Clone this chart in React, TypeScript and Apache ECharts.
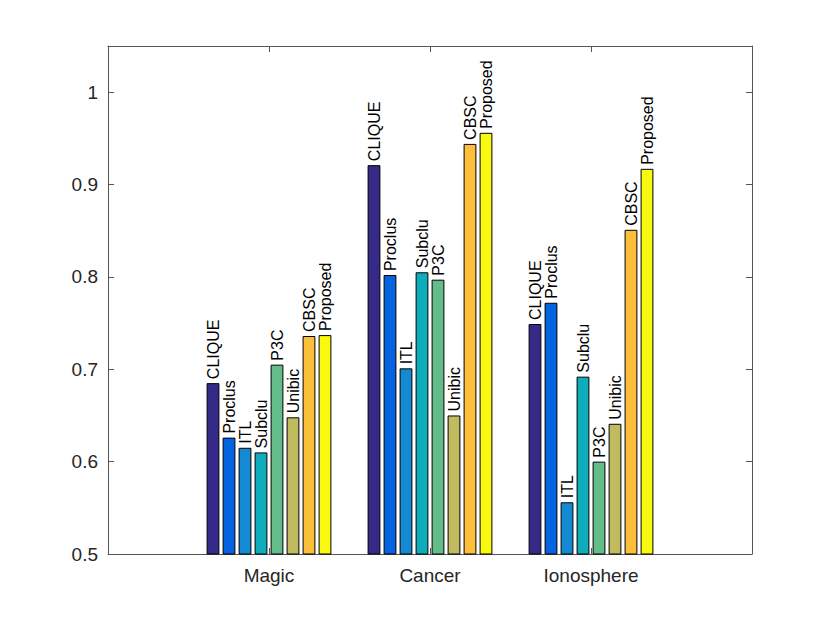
import React, { useEffect, useRef } from "react";
import * as echarts from "echarts";

const categories = ["", "Magic", "Cancer", "Ionosphere", ""];
const methods = ["CLIQUE", "Proclus", "ITL", "Subclu", "P3C", "Unibic", "CBSC", "Proposed"];
const colors = ["#352a87", "#0363e1", "#148ad2", "#0fadbb", "#62bd8a", "#bfbb5e", "#fdbf3a", "#f9f910"];
const magic = [0.685, 0.626, 0.615, 0.61, 0.705, 0.648, 0.736, 0.737];
const cancer = [0.921, 0.802, 0.701, 0.805, 0.797, 0.65, 0.944, 0.956];
const ionosphere = [0.749, 0.772, 0.556, 0.692, 0.6, 0.641, 0.851, 0.917];
const yTicks = { min: 0.5, max: 1.05, interval: 0.1 };

const FONT = "Liberation Sans, Arial, Helvetica, sans-serif";
const AXIS = "#555555";
const TEXT = "#262626";

export default function App() {
  const ref = useRef<HTMLDivElement>(null);
  useEffect(() => {
    if (!ref.current) return;
    const chart = echarts.init(ref.current, null, { renderer: "svg" });
    const tickFn = (i: number) => i >= 1 && i <= 3;
    const series = methods.map((name, k) => ({
      name,
      type: "bar",
      barWidth: 12.8,
      barGap: "25%",
      data: [null, magic[k], cancer[k], ionosphere[k], null],
      itemStyle: { color: colors[k], borderColor: "#000", borderWidth: 1 },
      label: {
        show: true,
        position: "top",
        rotate: 90,
        align: "left",
        verticalAlign: "middle",
        distance: 4,
        formatter: () => name,
        fontSize: 16,
        fontFamily: FONT,
        color: "#000",
      },
    }));
    chart.setOption({
      animation: false,
      backgroundColor: "#fff",
      grid: { left: 108, right: 78, top: 46, bottom: 69, containLabel: false },
      xAxis: [
        {
          type: "category",
          data: categories,
          boundaryGap: false,
          position: "bottom",
          axisLine: { show: true, lineStyle: { color: AXIS, width: 1 } },
          axisTick: { show: true, inside: true, length: 6, interval: tickFn, lineStyle: { color: AXIS } },
          axisLabel: { show: true, fontSize: 19, fontFamily: FONT, color: TEXT, margin: 12, interval: 0 },
          splitLine: { show: false },
        },
        {
          type: "category",
          data: categories,
          boundaryGap: false,
          position: "top",
          axisLine: { show: true, lineStyle: { color: AXIS, width: 1 } },
          axisTick: { show: true, inside: true, length: 6, interval: tickFn, lineStyle: { color: AXIS } },
          axisLabel: { show: false },
          splitLine: { show: false },
        },
      ],
      yAxis: [
        {
          type: "value",
          min: yTicks.min,
          max: yTicks.max,
          interval: yTicks.interval,
          position: "left",
          axisLine: { show: true, lineStyle: { color: AXIS, width: 1 } },
          axisTick: { show: true, inside: true, length: 6, lineStyle: { color: AXIS } },
          axisLabel: { fontSize: 19, fontFamily: FONT, color: TEXT, margin: 10, showMaxLabel: false },
          splitLine: { show: false },
        },
        {
          type: "value",
          min: yTicks.min,
          max: yTicks.max,
          interval: yTicks.interval,
          position: "right",
          axisLine: { show: true, lineStyle: { color: AXIS, width: 1 } },
          axisTick: { show: true, inside: true, length: 6, lineStyle: { color: AXIS } },
          axisLabel: { show: false },
          splitLine: { show: false },
        },
      ],
      series,
    });
    return () => chart.dispose();
  }, []);
  return (
    <div
      ref={ref}
      style={{ position: "fixed", left: 0, top: 0, width: 830, height: 623, background: "#fff" }}
    />
  );
}
